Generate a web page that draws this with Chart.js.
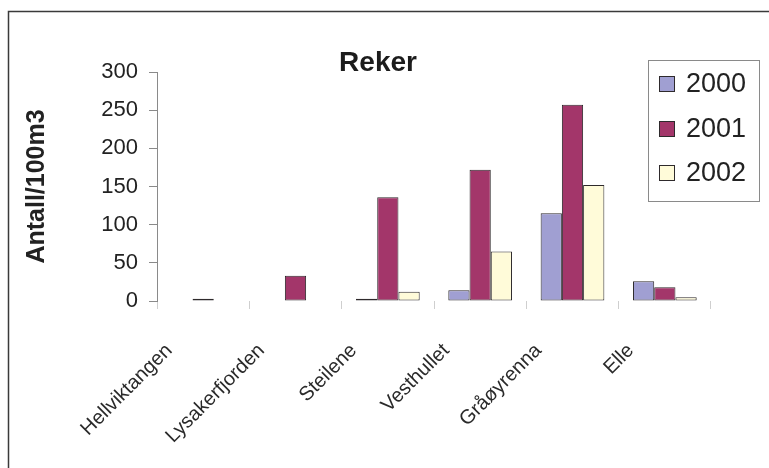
<!DOCTYPE html>
<html>
<head>
<meta charset="utf-8">
<script src="https://cdn.jsdelivr.net/npm/chart.js@4.4.1/dist/chart.umd.min.js"></script>
<style>
  html, body { margin: 0; padding: 0; background: #ffffff; }
  #c { display: block; }
</style>
</head>
<body>
<canvas id="c" width="769" height="468"></canvas>
<script>
// Stations sampled
const categories = ['Hellviktangen', 'Lysakerfjorden', 'Steilene', 'Vesthullet', 'Gråøyrenna', 'Elle'];
// Shrimp density (Antall/100m3) per year
const years = ['2000', '2001', '2002'];
const values2000 = [null, null, 3, 14, 115, 26];
const values2001 = [3, 33, 136, 172, 257, 18];
const values2002 = [null, null, 12, 65, 152, 5];
const yTicks = [0, 50, 100, 150, 200, 250, 300];

const colors = ['#a09fd2', '#a3366a', '#fffbd9'];
const edge = '#2e2a2c';
const FONT = '"Liberation Sans", Arial, Helvetica, sans-serif';

// Frame, title and legend box drawn on top of the canvas
const decor = {
  id: 'decor',
  beforeDraw(chart) {
    const ctx = chart.ctx;
    ctx.save();
    ctx.fillStyle = '#ffffff';
    ctx.fillRect(0, 0, chart.width, chart.height);
    ctx.strokeStyle = '#3a3a3a';
    ctx.lineWidth = 1.5;
    ctx.beginPath();
    ctx.moveTo(8.5, chart.height);
    ctx.lineTo(8.5, 11.5);
    ctx.lineTo(chart.width, 11.5);
    ctx.stroke();
    ctx.restore();
  },
  afterDraw(chart) {
    const ctx = chart.ctx;
    ctx.save();
    // title
    ctx.fillStyle = '#1c1c1c';
    ctx.font = 'bold 28px ' + FONT;
    ctx.textAlign = 'center';
    ctx.textBaseline = 'middle';
    ctx.fillText('Reker', 378, 63);

    // legend
    ctx.strokeStyle = '#8a8a8a';
    ctx.lineWidth = 1;
    ctx.strokeRect(648.5, 60.5, 111, 141);
    const rows = [84, 129, 173];
    chart.data.datasets.forEach((ds, i) => {
      const y = rows[i];
      ctx.fillStyle = ds.backgroundColor;
      ctx.fillRect(659, y - 8, 16, 16);
      ctx.strokeStyle = edge;
      ctx.lineWidth = 1;
      ctx.strokeRect(659.5, y - 7.5, 15, 15);
      ctx.fillStyle = '#222222';
      ctx.font = '27px ' + FONT;
      ctx.textAlign = 'left';
      ctx.textBaseline = 'middle';
      ctx.fillText(ds.label, 686, y + 1);
    });
    ctx.restore();
  }
};

const seriesValues = [values2000, values2001, values2002];

new Chart(document.getElementById('c'), {
  type: 'bar',
  data: {
    labels: categories,
    datasets: years.map((y, i) => ({
      label: y,
      data: seriesValues[i],
      backgroundColor: colors[i],
      borderColor: edge,
      borderWidth: 1,
      borderSkipped: false,
      barPercentage: 1.0,
      categoryPercentage: 0.69
    }))
  },
  options: {
    responsive: false,
    animation: false,
    devicePixelRatio: 1,
    layout: { padding: { top: 72, left: 0, right: 58, bottom: 0 } },
    plugins: {
      legend: { display: false },
      title: { display: false },
      tooltip: { enabled: false }
    },
    scales: {
      x: {
        offset: true,
        grid: {
          display: true,
          offset: true,
          drawOnChartArea: false,
          drawTicks: true,
          tickLength: 8,
          color: '#cfcfcf'
        },
        border: { display: false },
        ticks: {
          minRotation: 45,
          maxRotation: 45,
          autoSkip: false,
          padding: 30,
          labelOffset: -34,
          color: '#2a2a2a',
          font: { family: FONT, size: 20 }
        },
        afterFit(scale) { scale.height = 468 - 301; }
      },
      y: {
        min: 0,
        max: 300,
        afterBuildTicks(scale) { scale.ticks = yTicks.map(v => ({ value: v })); },
        grid: {
          display: true,
          drawOnChartArea: false,
          drawTicks: true,
          tickLength: 8,
          color: '#8a8a8a'
        },
        border: { display: true, color: '#8a8a8a', width: 1 },
        ticks: {
          padding: 11,
          color: '#222222',
          font: { family: FONT, size: 22 }
        },
        title: {
          display: true,
          text: 'Antall/100m3',
          color: '#222222',
          font: { family: FONT, size: 25, weight: 'bold' },
          padding: { top: 22, bottom: 0 }
        },
        afterFit(scale) { scale.width = 157; }
      }
    }
  },
  plugins: [decor]
});
</script>
</body>
</html>
